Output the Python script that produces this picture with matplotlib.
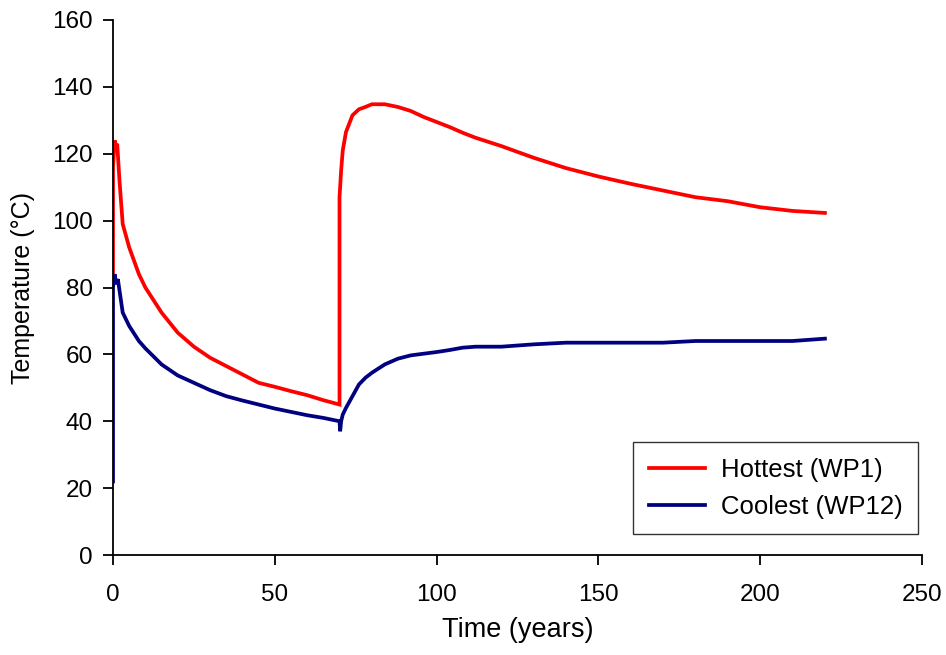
import matplotlib
matplotlib.use("Agg")
import matplotlib.pyplot as plt

# Waste package temperature history
t_hot = [0, 0, 0.5, 1.0, 1.3, 2, 3, 5, 8, 10, 15, 20, 25, 30, 35, 40, 45, 50, 55, 60, 65, 70,
         70, 70.5, 71, 72, 74, 76, 78, 80, 84, 88, 92, 96, 100, 104, 108, 112, 120, 130, 140,
         150, 160, 170, 180, 190, 200, 210, 220]
temp_hot = [81, 116, 124, 122, 123, 112, 99, 92, 84, 80, 72.5, 66.5, 62.3, 59, 56.5, 54, 51.5,
            50.3, 49, 47.8, 46.3, 45,
            107, 115, 121, 126.5, 131.5, 133.3, 134, 134.8, 134.8, 134, 132.8, 131, 129.5, 128,
            126.3, 124.8, 122.3, 118.8, 115.7, 113.2, 111, 109, 107, 105.8, 104, 102.9, 102.3]

t_cool = [0, 0, 0.5, 1.0, 1.5, 3, 5, 8, 10, 15, 20, 25, 30, 35, 40, 45, 50, 55, 60, 65, 70,
          70.2, 70.5, 71, 72, 74, 76, 78, 80, 84, 88, 92, 96, 100, 104, 108, 112, 120, 130,
          140, 150, 160, 170, 180, 190, 200, 210, 220]
temp_cool = [22, 80, 84, 81, 82.5, 72.5, 68.5, 64, 61.8, 57, 53.7, 51.5, 49.3, 47.5, 46.2, 45,
             43.8, 42.8, 41.8, 41, 40,
             37, 40, 42, 44, 47.5, 51, 53, 54.5, 57, 58.7, 59.7, 60.2, 60.7, 61.3, 62, 62.3,
             62.3, 63, 63.5, 63.5, 63.5, 63.5, 64, 64, 64, 64, 64.7]

x_ticks = [0, 50, 100, 150, 200, 250]
y_ticks = [0, 20, 40, 60, 80, 100, 120, 140, 160]

plt.rcParams["font.family"] = ["Liberation Sans", "DejaVu Sans"]

fig = plt.figure(figsize=(9.46, 6.55), dpi=100)
ax = fig.add_axes([113 / 946, 1 - 555 / 655, (922 - 113) / 946, (555 - 20) / 655])

ax.plot(t_hot, temp_hot, color="#FF0000", lw=2.7, label="Hottest (WP1)", solid_joinstyle="miter")
ax.plot(t_cool, temp_cool, color="#000080", lw=2.7, label="Coolest (WP12)", solid_joinstyle="miter")

ax.set_xlim(0, 250)
ax.set_ylim(0, 160)
ax.set_xticks(x_ticks)
ax.set_yticks(y_ticks)

for side in ("top", "right"):
    ax.spines[side].set_visible(False)
for side in ("left", "bottom"):
    ax.spines[side].set_linewidth(1.3)
    ax.spines[side].set_color("black")

ax.tick_params(axis="both", direction="out", length=7, width=1.3, colors="black")
ax.tick_params(axis="y", labelsize=17.5, pad=7.5)
ax.tick_params(axis="x", labelsize=17.5, pad=14)

ax.set_ylabel("Temperature (°C)", fontsize=18, labelpad=12)
ax.set_xlabel("Time (years)", fontsize=19.5, labelpad=8)

leg = ax.legend(loc="lower right", bbox_to_anchor=(0.995, 0.039), borderaxespad=0,
                fontsize=18.5, frameon=True, fancybox=False, handlelength=2.2,
                handletextpad=0.6, borderpad=0.6, labelspacing=0.5)
leg.get_frame().set_edgecolor("black")
leg.get_frame().set_linewidth(1.0)

fig.savefig("out.png", dpi=100)
